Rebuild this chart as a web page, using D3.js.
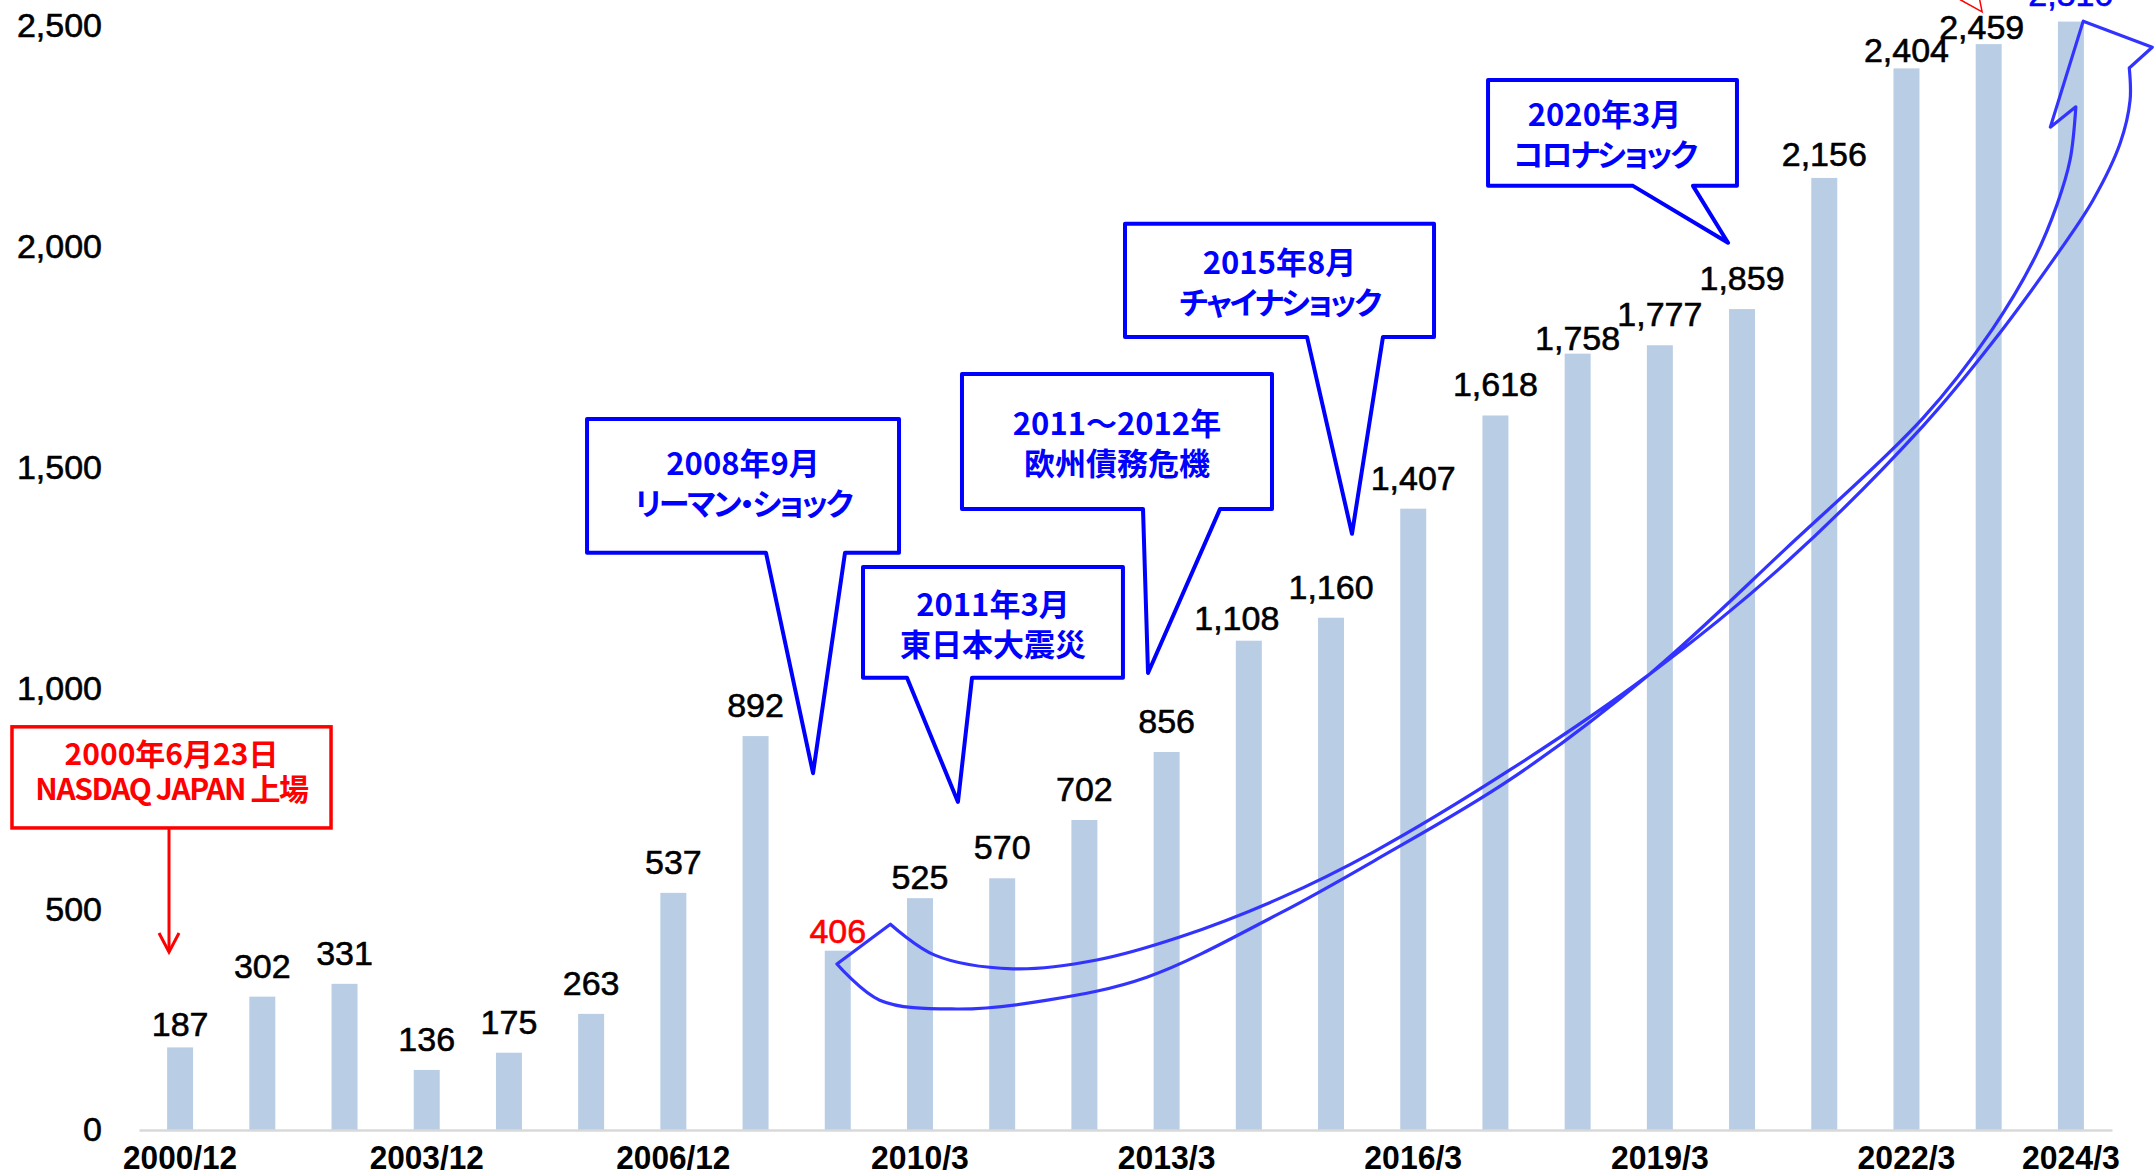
<!DOCTYPE html>
<html>
<head>
<meta charset="utf-8">
<script src="https://cdn.jsdelivr.net/npm/d3@7"></script>
<style>
  html, body { margin: 0; padding: 0; background: #fff; }
  svg { display: block; }
</style>
</head>
<body>
<div id="chart"></div>
<script>
// ---- data ----
const periods = ['2000/12', '2001/12', '2002/12', '2003/12', '2004/12', '2005/12', '2006/12', '2007/12',
  '2009/3', '2010/3', '2011/3', '2012/3', '2013/3', '2014/3', '2015/3', '2016/3', '2017/3', '2018/3',
  '2019/3', '2020/3', '2021/3', '2022/3', '2023/3', '2024/3'];
const values = [187, 302, 331, 136, 175, 263, 537, 892, 406, 525, 570, 702, 856, 1108, 1160, 1407,
  1618, 1758, 1777, 1859, 2156, 2404, 2459, 2510];
const tickPeriods = ['2000/12', '2003/12', '2006/12', '2010/3', '2013/3', '2016/3', '2019/3', '2022/3', '2024/3'];
const yTicks = [0, 500, 1000, 1500, 2000, 2500];
const redPeriod = '2009/3';
const bluePeriod = '2024/3';

const eventLines = [
  ['2008年9月', 'リーマン・ショック'],
  ['2011年3月', '東日本大震災'],
  ['2011～2012年', '欧州債務危機'],
  ['2015年8月', 'チャイナショック'],
  ['2020年3月', 'コロナショック']
];
const listingLines = ['2000年6月23日', 'NASDAQ JAPAN 上場'];

// ---- layout (bar index / value units) ----
// gap between label baseline and bar top, and sideways nudge
const labelGap = [11, 19, 19, 19, 19, 19, 19, 19, 8, 9, 19, 19, 19, 11, 19, 19, 19, 4, 19, 19, 12, 6, 5, 16];
const labelDx = [0, 0, 0, 0, 0, 0, 0, 0, 0, 0, 0, 0, 0, -12, 0, 0, 0, 0, 0, 0, 0, 0, -7, 0];

const callouts = [
  { l: 4.95, r: 8.745, t: 1610, b: 1307, b1: 7.127, b2: 8.088, tip: [7.699, 808], dx: 0, dy: -4 },
  { l: 8.307, r: 11.469, t: 1275, b: 1024, b1: 8.842, b2: 9.633, tip: [9.462, 743], dx: 0, dy: 0 },
  { l: 9.511, r: 13.282, t: 1712, b: 1406, b1: 11.713, b2: 12.649, tip: [11.774, 1035], dx: 0, dy: 0 },
  { l: 11.494, r: 15.253, t: 2052, b: 1796, b1: 13.708, b2: 14.632, tip: [14.255, 1350], dx: 0, dy: 0 },
  { l: 15.91, r: 18.938, t: 2378, b: 2138, b1: 17.673, b2: 18.403, tip: [18.829, 2009], dx: -8, dy: 0 }
];
const listingBox = { l: -2.045, r: 1.836, t: 913, b: 684, ax: -0.135, aEnd: 403 };

// big curved arrow: lower edge from tail to head, head, upper edge back to tail
const arrowLower = [[7.99, 376], [8.51, 294], [9.45, 274], [10.55, 294], [11.76, 346], [13.38, 491],
  [14.52, 609], [16.19, 795], [17.86, 1030], [19.53, 1316], [21.2, 1612], [22.04, 1812],
  [22.56, 1975], [22.83, 2095], [22.99, 2197], [23.06, 2317]];
const arrowHead = [[22.75, 2271], [23.15, 2511], [23.99, 2452]];
const arrowUpper = [[23.71, 2405], [23.72, 2332], [23.6, 2235], [23.27, 2106], [22.87, 1993],
  [22.04, 1782], [21.2, 1594], [19.53, 1284], [17.86, 1030], [16.19, 817], [14.52, 630],
  [13.38, 525], [12.16, 437], [11.15, 385], [10.13, 365], [9.18, 396], [8.64, 466]];
const redTip = [[21.65, 2560], [21.92, 2532], [21.89, 2560]];

// ---- chart ----
const width = 2154;
const height = 1174;
const numFont = '"Liberation Sans", Arial, sans-serif';
const jpFont = '"Noto Sans CJK JP", "Noto Sans CJK SC", sans-serif';
const kana = /[\u30A0-\u30FF]/;

const svg = d3.select('#chart')
  .append('svg')
  .attr('width', width)
  .attr('height', height)
  .style('background', '#fff');

const x = d3.scaleBand()
  .domain(periods)
  .range([139, 2112])
  .paddingInner(0.684)
  .paddingOuter(0.342);
const y = d3.scaleLinear().domain([0, 2500]).range([1130, 26]);

// fractional bar index -> bar centre
const xi = d3.scaleLinear()
  .domain([0, periods.length - 1])
  .range([x(periods[0]) + x.bandwidth() / 2, x(periods[periods.length - 1]) + x.bandwidth() / 2]);

/* bars */
svg.append('g')
  .selectAll('rect')
  .data(values)
  .join('rect')
  .attr('x', (d, i) => x(periods[i]))
  .attr('y', d => y(d))
  .attr('width', x.bandwidth())
  .attr('height', d => y(0) - y(d))
  .attr('fill', '#b9cde5');

/* x axis */
const xAxis = svg.append('g')
  .attr('transform', `translate(0,${y(0)})`)
  .call(d3.axisBottom(x).tickValues(tickPeriods).tickSize(0).tickSizeOuter(0).tickPadding(0));
xAxis.select('.domain').attr('stroke', '#d9d9d9').attr('stroke-width', 2.5);
xAxis.selectAll('text')
  .attr('y', 39)
  .attr('dy', 0)
  .attr('fill', '#000')
  .attr('font-family', numFont)
  .attr('font-weight', 'bold')
  .attr('font-size', 34)
  .attr('textLength', d => d.length * 16.3)
  .attr('lengthAdjust', 'spacingAndGlyphs');

/* y axis */
const yAxis = svg.append('g')
  .attr('transform', 'translate(102,0)')
  .call(d3.axisLeft(y).tickValues(yTicks).tickSize(0).tickPadding(0).tickFormat(d3.format(',')));
yAxis.select('.domain').remove();
yAxis.selectAll('text')
  .attr('fill', '#000')
  .attr('stroke', '#000')
  .attr('stroke-width', 0.6)
  .attr('font-family', numFont)
  .attr('font-size', 34);

/* value labels */
const labelColor = (d, i) => periods[i] === redPeriod ? '#ff0000' : periods[i] === bluePeriod ? '#0000ff' : '#000';
svg.append('g')
  .selectAll('text')
  .data(values)
  .join('text')
  .attr('x', (d, i) => xi(i) + labelDx[i])
  .attr('y', (d, i) => y(d) - labelGap[i])
  .attr('text-anchor', 'middle')
  .attr('font-family', numFont)
  .attr('font-size', 34)
  .attr('fill', labelColor)
  .attr('stroke', labelColor)
  .attr('stroke-width', 0.6)
  .text(d => d3.format(',')(d));

/* big curved arrow */
const curve = d3.line().x(p => xi(p[0])).y(p => y(p[1])).curve(d3.curveCatmullRom.alpha(0.5));
const straight = pts => pts.map(p => `L${xi(p[0])},${y(p[1])}`).join('');
svg.append('path')
  .attr('d', curve(arrowLower) + straight(arrowHead) + curve(arrowUpper).replace(/^M/, 'L') + 'Z')
  .attr('fill', 'none')
  .attr('stroke', '#3333ff')
  .attr('stroke-width', 3.2)
  .attr('stroke-linejoin', 'round');

/* red arrow head near the top */
svg.append('path')
  .attr('d', d3.line().x(p => xi(p[0])).y(p => y(p[1]))(redTip))
  .attr('fill', 'none')
  .attr('stroke', '#ff0000')
  .attr('stroke-width', 1.5);

/* event callouts */
const calloutPath = c => {
  const l = xi(c.l), r = xi(c.r), t = y(c.t), b = y(c.b);
  return `M${l},${t}H${r}V${b}H${xi(c.b2)}L${xi(c.tip[0])},${y(c.tip[1])}L${xi(c.b1)},${b}H${l}Z`;
};

const cg = svg.append('g').selectAll('g').data(callouts).join('g');
cg.append('path')
  .attr('d', calloutPath)
  .attr('fill', '#fff')
  .attr('stroke', '#0000ff')
  .attr('stroke-width', 4)
  .attr('stroke-linejoin', 'round');
cg.each(function(c, k) {
  const cx = (xi(c.l) + xi(c.r)) / 2 + c.dx;
  const cy = (y(c.t) + y(c.b)) / 2 + c.dy;
  d3.select(this).selectAll('text')
    .data(eventLines[k])
    .join('text')
    .attr('x', cx)
    .attr('y', (d, j) => cy + (j === 0 ? -20 : 20))
    .attr('dominant-baseline', 'central')
    .attr('text-anchor', 'middle')
    .attr('font-family', jpFont)
    .attr('font-weight', 'bold')
    .attr('font-size', 31)
    .attr('letter-spacing', d => kana.test(d) ? -2.3 : 0)
    .style('font-feature-settings', '"palt"')
    .attr('fill', '#0000ff')
    .text(d => d);
});

/* listing callout */
const lb = listingBox;
svg.append('rect')
  .attr('x', xi(lb.l))
  .attr('y', y(lb.t))
  .attr('width', xi(lb.r) - xi(lb.l))
  .attr('height', y(lb.b) - y(lb.t))
  .attr('fill', '#fff')
  .attr('stroke', '#ff0000')
  .attr('stroke-width', 3.5);
svg.append('line')
  .attr('x1', xi(lb.ax)).attr('x2', xi(lb.ax))
  .attr('y1', y(lb.b)).attr('y2', y(lb.aEnd))
  .attr('stroke', '#ff0000')
  .attr('stroke-width', 3);
svg.append('path')
  .attr('d', `M${xi(lb.ax) - 10},${y(lb.aEnd) - 19}L${xi(lb.ax)},${y(lb.aEnd)}L${xi(lb.ax) + 10},${y(lb.aEnd) - 19}`)
  .attr('fill', 'none')
  .attr('stroke', '#ff0000')
  .attr('stroke-width', 3);
svg.append('g')
  .selectAll('text')
  .data(listingLines)
  .join('text')
  .attr('x', (xi(lb.l) + xi(lb.r)) / 2)
  .attr('y', (d, j) => (y(lb.t) + y(lb.b)) / 2 - 8 + (j === 0 ? -17 : 18))
  .attr('dominant-baseline', 'central')
  .attr('text-anchor', 'middle')
  .attr('font-family', jpFont)
  .attr('font-weight', 'bold')
  .attr('font-size', 30)
  .attr('letter-spacing', (d, j) => j === 1 ? -1.4 : 0)
  .attr('fill', '#ff0000')
  .text(d => d);
</script>
</body>
</html>
